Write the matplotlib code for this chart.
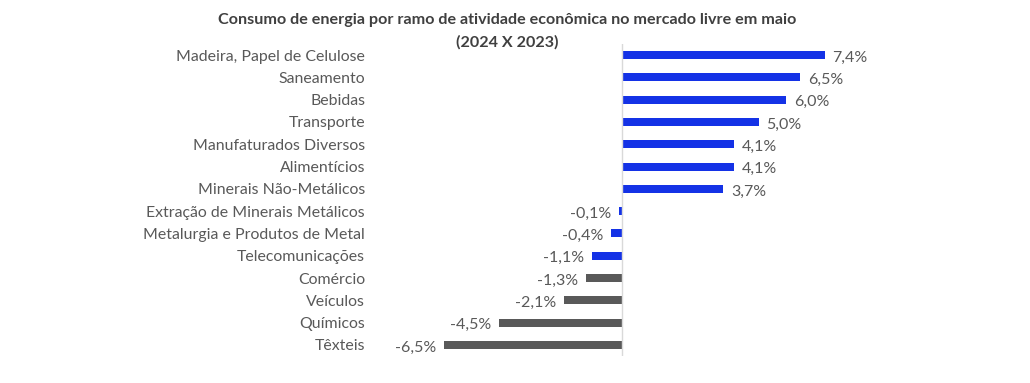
import matplotlib.pyplot as plt

categorias = ["Madeira, Papel de Celulose", "Saneamento", "Bebidas", "Transporte",
              "Manufaturados Diversos", "Alimentícios", "Minerais Não-Metálicos",
              "Extração de Minerais Metálicos", "Metalurgia e Produtos de Metal",
              "Telecomunicações", "Comércio", "Veículos", "Químicos", "Têxteis"]
variacao = [7.4, 6.5, 6.0, 5.0, 4.1, 4.1, 3.7, -0.1, -0.4, -1.1, -1.3, -2.1, -4.5, -6.5]
cores = ["#1432e6"] * 10 + ["#595959"] * 4

plt.rcParams['font.family'] = ['Lato', 'DejaVu Sans']

fig = plt.figure(figsize=(10.30, 3.83), dpi=100)
ax = fig.add_axes([372 / 1030, 1 - 356 / 383, (900 - 372) / 1030, 312 / 383])

y = list(range(len(categorias)))
ax.barh(y, variacao, height=0.36, color=cores)
ax.set_ylim(len(categorias) - 0.5, -0.5)
ax.set_xlim(-9.12, 10.15)

# rótulos de valor, um pouco abaixo do centro como no original
for i, v in enumerate(variacao):
    txt = f"{v:.1f}%".replace(".", ",")
    if v >= 0:
        ax.text(v + 0.28, i + 0.12, txt, ha="left", va="center", fontsize=11.5, color="#595959")
    else:
        ax.text(v - 0.28, i + 0.12, txt, ha="right", va="center", fontsize=11.5, color="#595959")

ax.set_yticks(y)
ax.set_yticklabels(categorias, fontsize=11.4, color="#595959")
ax.tick_params(axis="y", length=0, pad=5)
ax.set_xticks([])
for s in ["top", "right", "bottom", "left"]:
    ax.spines[s].set_visible(False)
ax.axvline(0, color="#d9d9d9", lw=1)

fig.text(507 / 1030, 1 - 20 / 383, "Consumo de energia por ramo de atividade econômica no mercado livre em maio",
         ha="center", va="center", fontsize=11.6, fontweight="bold", color="#404040")
fig.text(507 / 1030, 1 - 42 / 383, "(2024 X 2023)",
         ha="center", va="center", fontsize=11.6, fontweight="bold", color="#404040")

fig.savefig("out.png", dpi=100)
